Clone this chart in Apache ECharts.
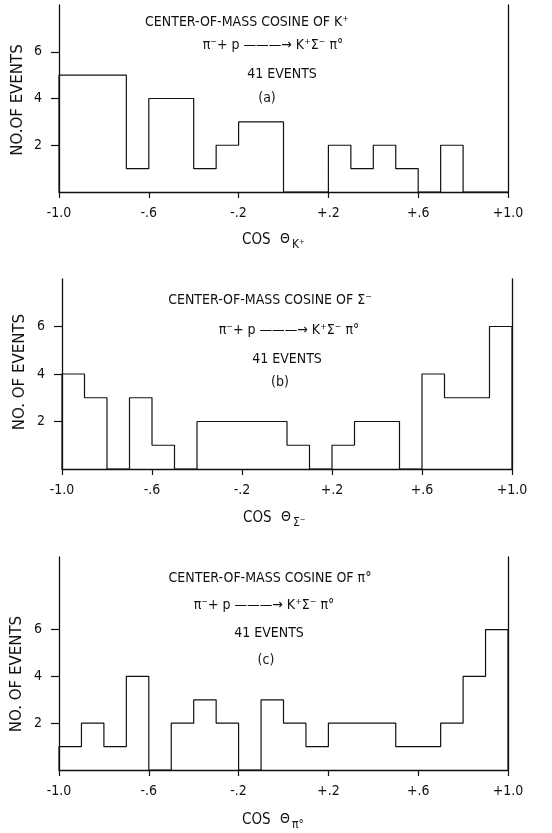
<!DOCTYPE html>
<html><head><meta charset="utf-8">
<script src="https://cdn.jsdelivr.net/npm/echarts@6/dist/echarts.min.js"></script>
<style>html,body{margin:0;padding:0;background:#fff}#c{width:552px;height:833px}</style>
</head><body><div id="c"></div>
<script>
// bin edges of cos(theta), 20 bins of 0.1
const binEdges = [-1.0,-0.9,-0.8,-0.7,-0.6,-0.5,-0.4,-0.3,-0.2,-0.1,0.0,0.1,0.2,0.3,0.4,0.5,0.6,0.7,0.8,0.9,1.0];
// (a) K+
const countsK = [5,5,5,1,4,4,1,2,3,3,0,0,2,1,2,1,0,2,0,0];
// (b) Sigma-
const countsSigma = [4,3,0,3,1,0,2,2,2,2,1,0,1,2,2,0,4,3,3,6];
// (c) pi0
const countsPi = [1,2,1,4,0,2,3,2,0,3,2,1,2,2,2,1,1,2,4,6];
const xTickValues = [-1.0,-0.6,-0.2,0.2,0.6,1.0];
const xTickLabels = ['-1.0','-.6','-.2','+.2','+.6','+1.0'];
const yTickValues = [2,4,6];
const yTickLabels = ['2','4','6'];
const panelTitles = ['CENTER-OF-MASS COSINE OF K\u207A','CENTER-OF-MASS COSINE OF \u03A3\u207B','CENTER-OF-MASS COSINE OF \u03C0\u00B0'];
const reactionText = '\u03C0\u207B+ p \u2014\u2014\u2014\u2192 K\u207A\u03A3\u207B \u03C0\u00B0';
const eventsText = '41 EVENTS';
const panelTags = ['(a)','(b)','(c)'];
const subscripts = ['K\u207A','\u03A3\u207B','\u03C0\u00B0'];
const yNames = ['NO.OF EVENTS','NO. OF EVENTS','NO. OF EVENTS'];
const yMaxes = [8, 8, 9.1];

const FONT = '"DejaVu Sans Condensed","DejaVu Sans",sans-serif';
const FONT2 = '"DejaVu Sans",sans-serif';
const INK = '#111';

const grids = [
  {left:59, top:5, width:449, height:187},
  {left:62, top:279, width:450, height:190},
  {left:59, top:557, width:449, height:213}
];
const allCounts = [countsK, countsSigma, countsPi];

function stepData(counts){
  const d = [[binEdges[0],0]];
  counts.forEach((v,i)=>d.push([binEdges[i],v]));
  d.push([binEdges[binEdges.length-1],0]);
  return d;
}

const xAxes = [], yAxes = [], series = [];
grids.forEach((g,i)=>{
  xAxes.push({type:'value', gridIndex:i, min:-1, max:1,
    axisLine:{show:true,onZero:false,lineStyle:{color:INK,width:1.3}},
    axisTick:{show:true, customValues:xTickValues, length:6, lineStyle:{color:INK,width:1.2}},
    axisLabel:{customValues:xTickValues, margin:14, color:INK, fontSize:14, fontFamily:FONT,
      formatter:(v)=>{const k=xTickValues.findIndex(t=>Math.abs(t-v)<1e-6);return k>=0?xTickLabels[k]:'';}},
    splitLine:{show:false}});
  yAxes.push({type:'value', gridIndex:i, min:0, max:yMaxes[i], position:'left',
    axisLine:{show:true,onZero:false,lineStyle:{color:INK,width:1.3}},
    axisTick:{show:true, customValues:yTickValues, length:8, lineStyle:{color:INK,width:1.2}},
    axisLabel:{customValues:yTickValues, margin:17, color:INK, fontSize:14, fontFamily:FONT,
      formatter:(v)=>{const k=yTickValues.indexOf(v);return k>=0?yTickLabels[k]:'';}},
    splitLine:{show:false}});
  yAxes.push({type:'value', gridIndex:i, min:0, max:yMaxes[i], position:'right',
    axisLine:{show:true,onZero:false,lineStyle:{color:INK,width:1.3}},
    axisTick:{show:false}, axisLabel:{show:false}, splitLine:{show:false}});
  series.push({type:'line', xAxisIndex:i, yAxisIndex:i*2, step:'end', symbol:'none',
    lineStyle:{color:INK,width:1.2}, data:stepData(allCounts[i]), silent:true, animation:false});
});

// text layout (pixel positions)
const titleY = [[247,22],[270,300],[270,578]];
const reactY = [[273,45],[289,330],[264,605]];
const evY = [[282,74],[287,359],[269,633]];
const tagY = [[267,98],[280,382],[266,660]];
const axTitle = [[242,240],[243,518],[242,820]];
const yName = [[18,100],[20,372],[17,674]];

const graphic = [];
for(let i=0;i<3;i++){
  const base = {fontFamily:FONT, fill:INK, textAlign:'center', textVerticalAlign:'middle'};
  graphic.push({type:'text', x:titleY[i][0], y:titleY[i][1], style:Object.assign({},base,{text:panelTitles[i], fontSize:14})});
  graphic.push({type:'text', x:reactY[i][0], y:reactY[i][1], style:Object.assign({},base,{text:reactionText, fontSize:14})});
  graphic.push({type:'text', x:evY[i][0], y:evY[i][1], style:Object.assign({},base,{text:eventsText, fontSize:14})});
  graphic.push({type:'text', x:tagY[i][0], y:tagY[i][1], style:Object.assign({},base,{text:panelTags[i], fontSize:14})});
  graphic.push({type:'text', x:axTitle[i][0], y:axTitle[i][1], style:{fontFamily:FONT, fill:INK, textAlign:'left', textVerticalAlign:'middle', text:'COS', fontSize:15}});
  graphic.push({type:'text', x:axTitle[i][0]+38, y:axTitle[i][1]-1, style:{fontFamily:FONT, fill:INK, textAlign:'left', textVerticalAlign:'middle', text:'\u0398', fontSize:14}});
  graphic.push({type:'text', x:axTitle[i][0]+50, y:axTitle[i][1]+5, style:{fontFamily:FONT, fill:INK, textAlign:'left', textVerticalAlign:'middle', text:subscripts[i], fontSize:12}});
  graphic.push({type:'text', x:yName[i][0], y:yName[i][1], rotation:Math.PI/2, style:Object.assign({},base,{text:yNames[i], fontSize:15, fontFamily:FONT2})});
}

const chart = echarts.init(document.getElementById('c'), null, {renderer:'canvas'});
chart.setOption({
  backgroundColor:'#fff', animation:false,
  grid:grids, xAxis:xAxes, yAxis:yAxes, series:series, graphic:graphic
});
</script></body></html>
